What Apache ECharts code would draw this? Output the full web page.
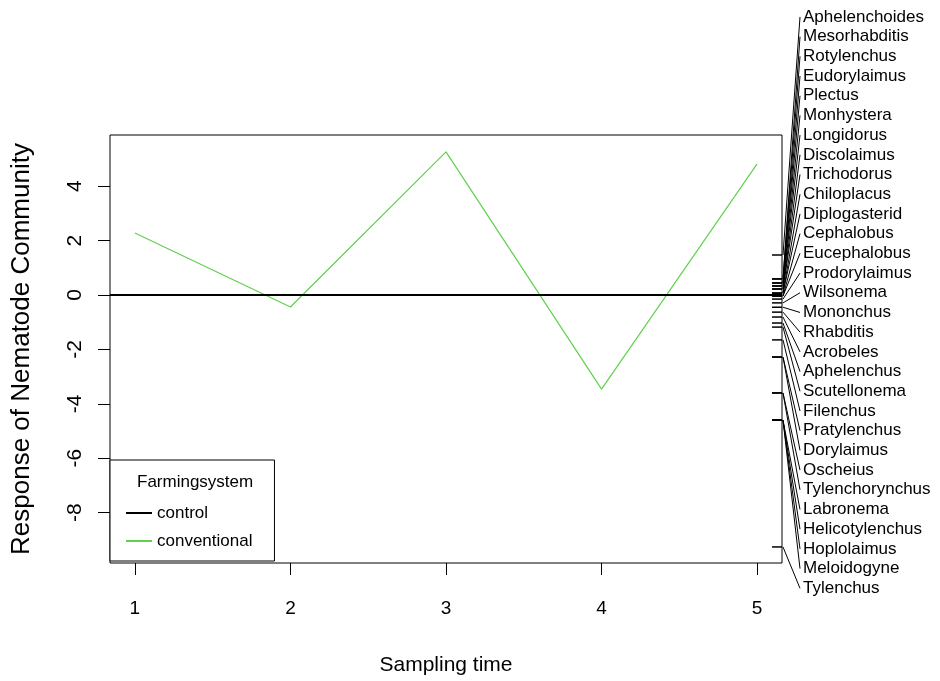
<!DOCTYPE html>
<html>
<head>
<meta charset="utf-8">
<script src="https://cdn.jsdelivr.net/npm/echarts@6/dist/echarts.min.js"></script>
<style>
  html, body { margin: 0; padding: 0; background: #fff; }
  #chart { width: 940px; height: 681px; }
</style>
</head>
<body>
<div id="chart"></div>
<script>
// Sampling times and the canonical response of the conventional system
const samplingTimes = [1, 2, 3, 4, 5];
const conventional = [2.28, -0.44, 5.26, -3.46, 4.82];
const xTicks = [1, 2, 3, 4, 5];
const yTicks = [-8, -6, -4, -2, 0, 2, 4];

// Species scores (rug on the right axis), in label order
const species = [
  'Aphelenchoides', 'Mesorhabditis', 'Rotylenchus', 'Eudorylaimus', 'Plectus',
  'Monhystera', 'Longidorus', 'Discolaimus', 'Trichodorus', 'Chiloplacus',
  'Diplogasterid', 'Cephalobus', 'Eucephalobus', 'Prodorylaimus', 'Wilsonema',
  'Mononchus', 'Rhabditis', 'Acrobeles', 'Aphelenchus', 'Scutellonema',
  'Filenchus', 'Pratylenchus', 'Dorylaimus', 'Oscheius', 'Tylenchorynchus',
  'Labronema', 'Helicotylenchus', 'Hoplolaimus', 'Meloidogyne', 'Tylenchus'
];
const speciesScores = [
  1.47, 0.59, 0.59, 0.44, 0.44,
  0.33, 0.33, 0.22, 0.22, 0.07,
  0.07, -0.04, -0.04, -0.15, -0.29,
  -0.45, -0.63, -0.81, -1.03, -1.18,
  -1.65, -2.28, -2.28, -3.6, -3.6,
  -4.6, -4.6, -4.6, -4.6, -9.26
];

// axis extents (R adds 4% on each side)
const xMin = 0.84, xMax = 5.16;
const yMin = -9.85, yMax = 5.88;
// label stack spans this range in data units
const labelTop = 10.22, labelBottom = -10.78;

const font = '"Liberation Sans", Arial, sans-serif';

let myChart = echarts.init(document.getElementById('chart'));

const option = {
  animation: false,
  backgroundColor: '#fff',
  textStyle: { fontFamily: font, color: '#000' },
  title: {
    text: 'Farmingsystem',
    left: 132,
    top: 469,
    z: 20,
    textStyle: { fontFamily: font, fontSize: 17, fontWeight: 'normal', color: '#000' }
  },
  legend: {
    data: [
      { name: 'control', icon: 'rect', itemStyle: { color: '#000' } },
      { name: 'conventional', icon: 'rect', itemStyle: { color: '#61D04F' } }
    ],
    orient: 'vertical',
    left: 110,
    top: 460,
    padding: [43, 22, 10, 16],
    itemGap: 8,
    itemWidth: 26,
    itemHeight: 2,
    borderColor: '#000',
    borderWidth: 1,
    borderRadius: 0,
    backgroundColor: '#fff',
    z: 10,
    textStyle: { fontFamily: font, fontSize: 17, color: '#000', lineHeight: 20 }
  },
  grid: {
    left: 110,
    right: 158,
    top: 135,
    bottom: 118,
    outerBoundsMode: 'none',
    show: true,
    borderColor: '#000',
    borderWidth: 1,
    backgroundColor: 'transparent'
  },
  xAxis: {
    type: 'value',
    min: xMin,
    max: xMax,
    name: 'Sampling time',
    nameLocation: 'middle',
    nameGap: 92,
    nameTextStyle: { fontFamily: font, fontSize: 21, color: '#000' },
    axisLine: { show: false, onZero: false },
    axisTick: {
      show: true,
      length: 12,
      customValues: xTicks,
      lineStyle: { color: '#000', width: 1 }
    },
    axisLabel: {
      customValues: xTicks,
      margin: 36,
      fontSize: 19,
      color: '#000',
      fontFamily: font
    },
    splitLine: { show: false }
  },
  yAxis: {
    type: 'value',
    min: yMin,
    max: yMax,
    name: 'Response of Nematode Community',
    nameLocation: 'middle',
    nameGap: 75,
    nameTextStyle: { fontFamily: font, fontSize: 26, color: '#000' },
    axisLine: { show: false, onZero: false },
    axisTick: {
      show: true,
      length: 12,
      customValues: yTicks,
      lineStyle: { color: '#000', width: 1 }
    },
    axisLabel: {
      customValues: yTicks,
      rotate: 90,
      margin: 24,
      fontSize: 21,
      color: '#000',
      fontFamily: font
    },
    splitLine: { show: false }
  },
  series: [
    {
      name: 'control',
      type: 'line',
      data: [],
      symbol: 'none',
      itemStyle: { color: '#000' },
      lineStyle: { color: '#000', width: 2 },
      markLine: {
        silent: true,
        symbol: 'none',
        label: { show: false },
        lineStyle: { color: '#000', width: 2, type: 'solid' },
        data: [{ yAxis: 0 }]
      }
    },
    {
      name: 'conventional',
      type: 'line',
      data: samplingTimes.map((t, i) => [t, conventional[i]]),
      symbol: 'none',
      itemStyle: { color: '#61D04F' },
      lineStyle: { color: '#61D04F', width: 1.2 }
    },
    {
      // species rug and stacked labels on the right
      name: 'species',
      type: 'custom',
      clip: false,
      silent: true,
      data: speciesScores.map((s, i) => [xMax, s, i]),
      renderItem: function (params, api) {
        const i = api.value(2);
        const p = api.coord([api.value(0), api.value(1)]);
        const step = (labelTop - labelBottom) / (species.length - 1);
        const ly = api.coord([xMax, labelTop - i * step])[1];
        return {
          type: 'group',
          children: [
            {
              type: 'line',
              shape: { x1: p[0] - 10, y1: p[1], x2: p[0], y2: p[1] },
              style: { stroke: '#000', lineWidth: 1.5 }
            },
            {
              type: 'line',
              shape: { x1: p[0] + 1, y1: p[1], x2: p[0] + 18, y2: ly },
              style: { stroke: '#000', lineWidth: 1 }
            },
            {
              type: 'text',
              x: p[0] + 21,
              y: ly,
              style: {
                text: species[i],
                fontFamily: font,
                fontSize: 17,
                fill: '#000',
                verticalAlign: 'middle',
                align: 'left'
              }
            }
          ]
        };
      }
    }
  ]
};

myChart.setOption(option);
</script>
</body>
</html>
